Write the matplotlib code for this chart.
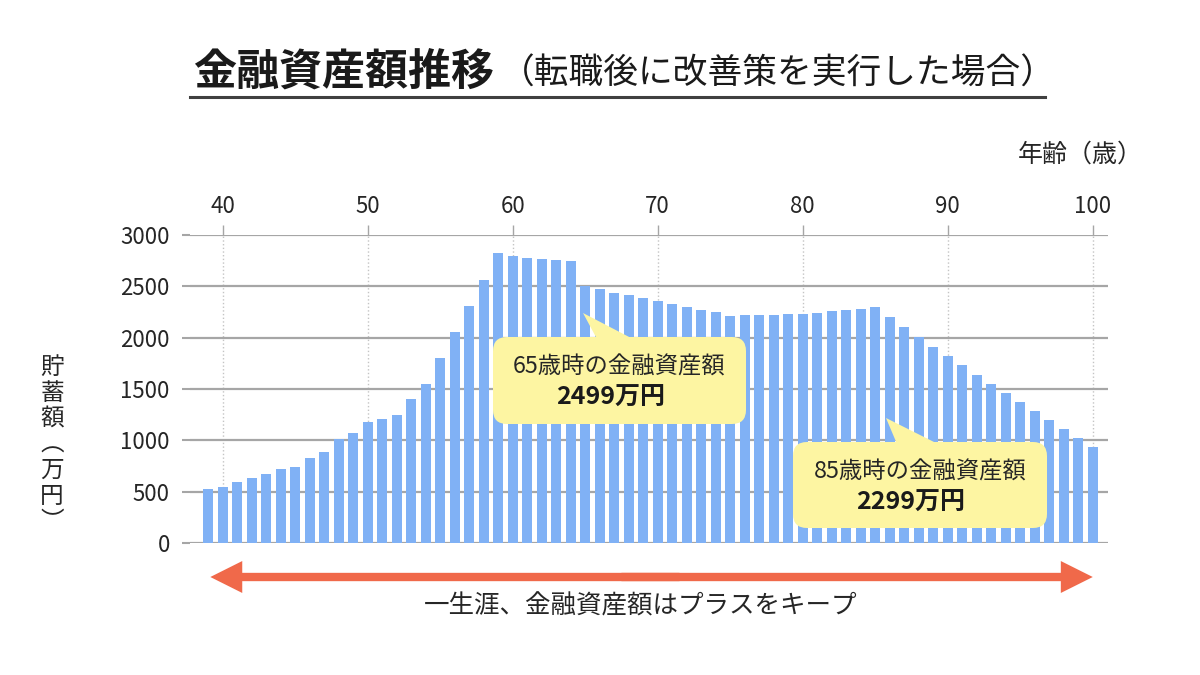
import matplotlib
matplotlib.use("Agg")
import matplotlib.pyplot as plt
from matplotlib.patches import FancyBboxPatch, Polygon, FancyArrowPatch
from matplotlib.transforms import IdentityTransform, blended_transform_factory

plt.rcParams['font.family'] = ['Noto Sans CJK JP', 'DejaVu Sans']

# data
ages = list(range(39, 101))
savings = [525, 550, 590, 630, 675, 720, 745, 825, 885, 1010, 1075,
           1180, 1205, 1250, 1405, 1545, 1805, 2055, 2310, 2560, 2825,
           2800, 2780, 2770, 2755, 2745,
           2499, 2474, 2435, 2418, 2386, 2360, 2328, 2300, 2272, 2250,
           2214, 2217, 2220, 2225, 2228, 2233, 2240, 2256, 2270, 2283,
           2299, 2200, 2105, 2005, 1910, 1820, 1730, 1640, 1550, 1465,
           1375, 1290, 1200, 1115, 1025, 935]
x_ticks = [40, 50, 60, 70, 80, 90, 100]
y_ticks = [0, 500, 1000, 1500, 2000, 2500, 3000]
callout_ages = [65, 85]
callout_labels = ["65歳時の金融資産額", "85歳時の金融資産額"]

bar_color = "#80b1f5"
grid_color = "#a6a6a6"
text_color = "#262626"
yellow = "#fdf5a2"
arrow_color = "#f0694a"

W, H = 1200, 675
fig = plt.figure(figsize=(12, 6.75), dpi=100)
fig.patch.set_facecolor("white")
ax = fig.add_axes([190 / W, (H - 543) / H, 918 / W, 308 / H])

ax.bar(ages, savings, width=0.7, color=bar_color, zorder=2)
ax.set_xlim(37.75, 101.05)
ax.set_ylim(0, 3000)

for s in ax.spines.values():
    s.set_visible(False)

ax.set_xticks(x_ticks)
ax.set_yticks(y_ticks)
ax.xaxis.tick_top()
ax.tick_params(axis="x", length=7, width=1, color=grid_color, pad=5,
               labelsize=16, labelcolor=text_color)
ax.tick_params(axis="y", length=6, width=1.5, color=grid_color, pad=8.5,
               labelsize=16, labelcolor=text_color)
ax.set_axisbelow(True)
ax.yaxis.grid(True, color=grid_color, lw=1.6, zorder=0)
ax.xaxis.grid(True, color="#c4c4c4", lw=1, ls=":", zorder=0)

# axis titles
fig.text(1080 / W, (H - 155) / H, "年齢（歳）", fontsize=18, color=text_color,
         ha="center", va="center")
fig.text(52 / W, (H - 445) / H, "\n".join("貯蓄額︵万円︶"), fontsize=17,
         color=text_color, ha="center", va="center", linespacing=1.15)

# title
fig.text(193 / W, (H - 72) / H, "金融資産額推移", fontsize=31, fontweight="bold",
         color="#1a1a1a", ha="left", va="center")
fig.text(500 / W, (H - 74) / H, "（転職後に改善策を実行した場合）", fontsize=25,
         color="#1a1a1a", ha="left", va="center")
fig.add_artist(plt.Line2D([190 / W, 1045 / W], [(H - 97) / H, (H - 97) / H],
                          color="#404040", lw=2.2))

# callouts (pixel geometry)
ident = IdentityTransform()
boxes = [  # left, right, top, bottom in pixels from top
    (493, 746, 337, 424, (583, 313), (597, 633)),
    (793, 1047, 442, 528, (886, 418), (897, 938)),
]
for i, (l, r, t, b, tip, base) in enumerate(boxes):
    box = FancyBboxPatch((l, H - b), r - l, b - t,
                         boxstyle="round,pad=0,rounding_size=14",
                         transform=ident, facecolor=yellow, edgecolor="none",
                         zorder=5)
    fig.add_artist(box)
    tri = Polygon([(tip[0], H - tip[1]), (base[0], H - t - 2), (base[1], H - t - 2)],
                  closed=True, transform=ident, facecolor=yellow,
                  edgecolor="none", zorder=5)
    fig.add_artist(tri)
    v = savings[ages.index(callout_ages[i])]
    cx = (l + r) / 2
    fig.text(cx / W, (H - t - 30) / H, callout_labels[i], fontsize=16.8,
             color=text_color, ha="center", va="center", zorder=6)
    fig.text((cx - 9) / W, (H - t - 61) / H, f"{v}万円", fontsize=18,
             fontweight="bold", color="#1a1a1a", ha="center", va="center",
             zorder=6)

# double arrow under the chart (two halves overlapping in the middle)
trans = blended_transform_factory(ax.transData, ident)
y_arrow = H - 577
mid = (ages[0] + ages[-1]) / 2
for start, end in ((mid + 2, ages[0] + 0.15), (mid - 2, ages[-1])):
    arr = FancyArrowPatch((start, y_arrow), (end, y_arrow), transform=trans,
                          arrowstyle="simple,head_length=23,head_width=23,tail_width=6",
                          mutation_scale=1, shrinkA=0, shrinkB=0,
                          color=arrow_color, lw=0)
    fig.add_artist(arr)
fig.text(641 / W, (H - 606) / H, "一生涯、金融資産額はプラスをキープ", fontsize=18.4,
         color=text_color, ha="center", va="center")

fig.savefig("out.png", dpi=100)
